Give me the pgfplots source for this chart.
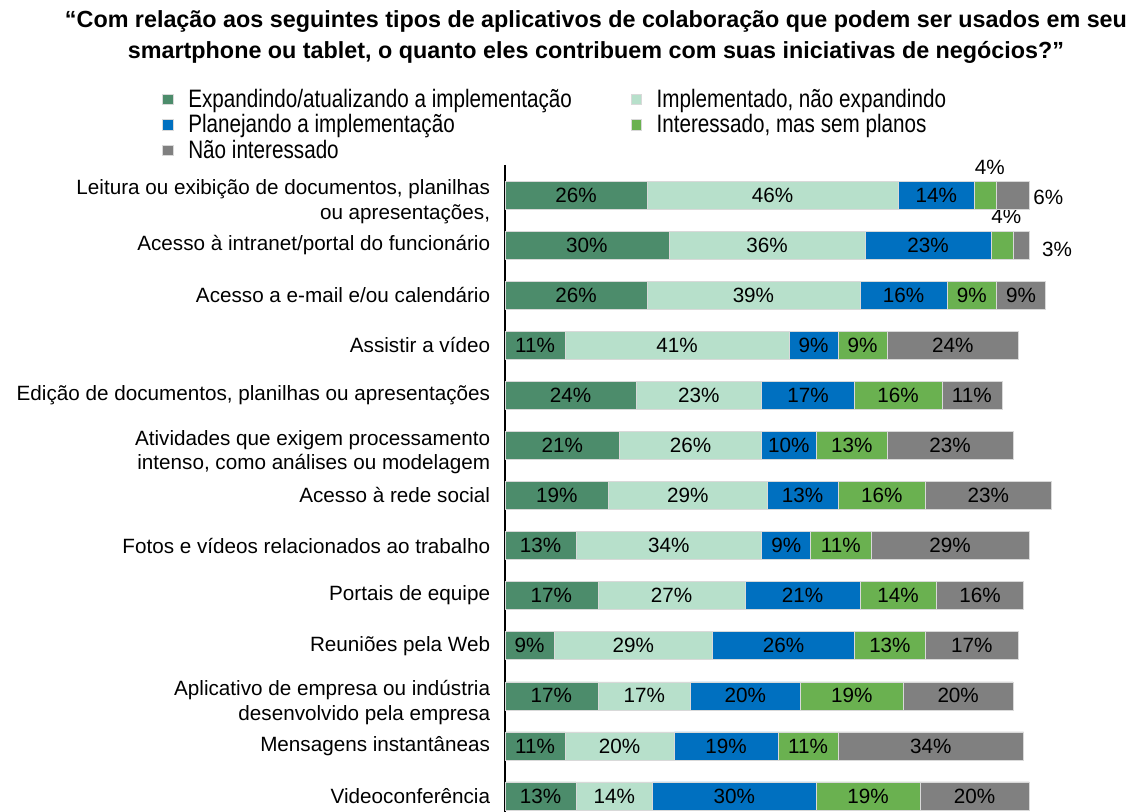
\documentclass[border=0pt]{standalone}
\usepackage{pgfplots}
\pgfplotsset{compat=1.18}
\usepackage{pgfplotstable}
\usepackage{graphicx}
\usepackage{fontspec}
\setmainfont{Liberation Sans}
\definecolor{cA}{HTML}{4C8C6B}
\definecolor{cB}{HTML}{B7E0CB}
\definecolor{cC}{HTML}{0070C0}
\definecolor{cD}{HTML}{6AB150}
\definecolor{cE}{HTML}{808080}
\definecolor{edge}{HTML}{D9D9D9}

\pgfplotstableread{
y v lab
0 26 26\%
1 30 30\%
2 26 26\%
3 11 11\%
4 24 24\%
5 21 21\%
6 19 19\%
7 13 13\%
8 17 17\%
9 9 9\%
10 17 17\%
11 11 11\%
12 13 13\%
}\tA
\pgfplotstableread{
y v lab
0 46 46\%
1 36 36\%
2 39 39\%
3 41 41\%
4 23 23\%
5 26 26\%
6 29 29\%
7 34 34\%
8 27 27\%
9 29 29\%
10 17 17\%
11 20 20\%
12 14 14\%
}\tB
\pgfplotstableread{
y v lab
0 14 14\%
1 23 23\%
2 16 16\%
3 9 9\%
4 17 17\%
5 10 10\%
6 13 13\%
7 9 9\%
8 21 21\%
9 26 26\%
10 20 20\%
11 19 19\%
12 30 30\%
}\tC
\pgfplotstableread{
y v lab
0 4 {}
1 4 {}
2 9 9\%
3 9 9\%
4 16 16\%
5 13 13\%
6 16 16\%
7 11 11\%
8 14 14\%
9 13 13\%
10 19 19\%
11 11 11\%
12 19 19\%
}\tD
\pgfplotstableread{
y v lab
0 6 {}
1 3 {}
2 9 9\%
3 24 24\%
4 11 11\%
5 23 23\%
6 23 23\%
7 29 29\%
8 16 16\%
9 17 17\%
10 20 20\%
11 34 34\%
12 20 20\%
}\tE

\newcommand{\lf}{\fontsize{15.5}{18.5}\selectfont}
\newcommand{\lgd}[1]{\scalebox{1}[1.22]{#1}}

\begin{document}
\begin{tikzpicture}
\useasboundingbox (0,0) rectangle (850.5pt,-609pt);
\node[align=center, font=\bfseries\fontsize{17.5}{23}\selectfont] at (447pt,-28pt)
  {“Com relação aos seguintes tipos de aplicativos de colaboração que podem ser usados em seu\\
   smartphone ou tablet, o quanto eles contribuem com suas iniciativas de negócios?”};
\begin{axis}[
  at={(378.75pt,-146.25pt)}, anchor=origin,
  x=4.095pt, y=37.56pt,
  xbar stacked, bar width=21pt,
  y dir=reverse,
  xmin=0, xmax=105, ymin=-0.6, ymax=12.32,
  axis x line=none, axis y line*=left,
  axis line style={line width=1.3pt, black},
  clip=false,
  ytick={1,2,3,4,6,7,8,9,11,12},
  major tick length=0pt,
  yticklabel style={align=right, anchor=east, inner sep=0pt, xshift=-11pt, font=\lf},
  yticklabels={
    {Acesso à intranet/portal do funcionário},
    {Acesso a e-mail e/ou calendário},
    {Assistir a vídeo},
    {Edição de documentos, planilhas ou apresentações},
    {Acesso à rede social},
    {Fotos e vídeos relacionados ao trabalho},
    {Portais de equipe},
    {Reuniões pela Web},
    {Mensagens instantâneas},
    {Videoconferência}},
  extra y ticks={0,5,10},
  extra y tick labels={
    {Leitura ou exibição de documentos, planilhas\\ou apresentações,},
    {Atividades que exigem processamento\\intenso, como análises ou modelagem},
    {Aplicativo de empresa ou indústria\\desenvolvido pela empresa}},
  extra y tick style={yticklabel style={yshift=-5pt}},
  nodes near coords,
  nodes near coords align=center,
  point meta=explicit symbolic,
  every node near coord/.append style={anchor=center, font=\lf, text=black},
  legend columns=2,
  legend cell align=left,
  legend image code/.code={\fill[#1] (0pt,-4pt) rectangle (8pt,4pt);},
  legend style={draw=none, fill=none, font=\lf,
     at={(axis description cs:-0.605,1.126)}, anchor=north west,
     row sep=0pt,
     /tikz/every odd column/.append style={column sep=9pt},
     /tikz/every even column/.append style={column sep=42pt}},
]
\addplot[fill=cA, draw=edge, line width=0.4pt] table[x=v, y=y, meta=lab] {\tA};
\addlegendentry{\lgd{Expandindo/atualizando a implementação}}
\addplot[fill=cB, draw=edge, line width=0.4pt] table[x=v, y=y, meta=lab] {\tB};
\addlegendentry{\lgd{Implementado, não expandindo}}
\addplot[fill=cC, draw=edge, line width=0.4pt] table[x=v, y=y, meta=lab] {\tC};
\addlegendentry{\lgd{Planejando a implementação}}
\addplot[fill=cD, draw=edge, line width=0.4pt] table[x=v, y=y, meta=lab] {\tD};
\addlegendentry{\lgd{Interessado, mas sem planos}}
\addplot[fill=cE, draw=edge, line width=0.4pt] table[x=v, y=y, meta=lab] {\tE};
\addlegendentry{\lgd{Não interessado}}
\node[font=\lf] at (axis cs:88.8,-0.56) {4\%};
\node[font=\lf] at (axis cs:99.5,0.04) {6\%};
\node[font=\lf] at (axis cs:91.8,0.42) {4\%};
\node[font=\lf] at (axis cs:101.1,1.08) {3\%};
\end{axis}
\end{tikzpicture}
\end{document}
